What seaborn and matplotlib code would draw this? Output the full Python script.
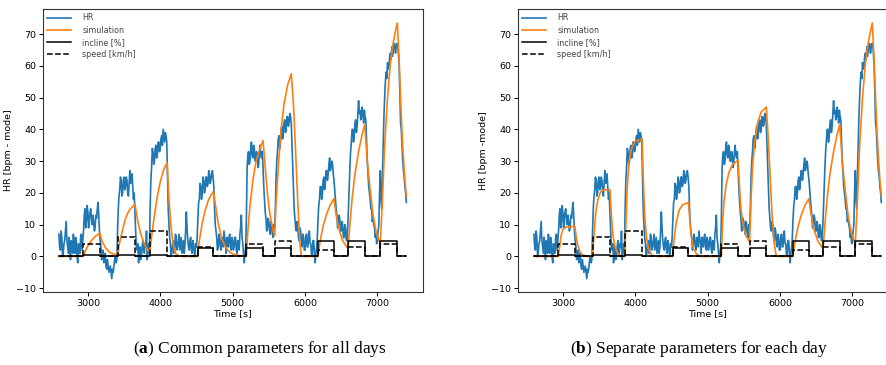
import numpy as np
import pandas as pd
import matplotlib
matplotlib.use("Agg")
import matplotlib.pyplot as plt
import seaborn as sns

plt.rcParams['mathtext.fontset'] = 'custom'
plt.rcParams['mathtext.rm'] = 'Liberation Serif'
plt.rcParams['mathtext.bf'] = 'Liberation Serif:bold'

# ---------------- data ----------------
hr_time = np.arange(2600, 7401, 10)
hr_values = [
    # 2600-2920
    7, 3, 2, 8, 6, 0, 1, 4, 5, 8, 11, 5, 3, 1, 6, 2, -1, 5, 4, 1, 7, 3, 1, 6, 5, 0, -2, 4, 3, 1, 6, 7, 2,
    # 2930-3160
    5, 8, 13, 15, 9, 11, 16, 14, 9, 12, 14, 15, 11, 10, 13, 11, 8, 9, 13, 12, 15, 17, 13, 8,
    # 3170-3400
    5, 3, -1, 0, 2, -2, -1, 1, -3, -4, -1, -3, -5, -4, -3, -5, -7, -4, -5, -3, -1, 0, -2, -1,
    # 3410-3640
    8, 15, 19, 21, 25, 24, 19, 20, 24, 25, 21, 22, 25, 24, 20, 19, 23, 27, 23, 24, 26, 22, 18, 20,
    # 3650-3860
    14, 8, 3, 2, 4, -2, 1, 3, -1, 0, 3, 5, 2, 1, 4, 3, 8, -1, 2, 4, 1, 15,
    # 3870-4080
    24, 28, 34, 33, 29, 30, 34, 35, 31, 32, 36, 36, 33, 34, 37, 38, 35, 40, 38, 36, 39, 38,
    # 4090-4500
    36, 25, 15, 10, 6, 4, 0, 1, 4, 5, 1, 2, 7, 6, 2, 3, 5, 7, 2, 4, 6, 1, 3, 5, 1, 3, 8, 14, 9, 5,
    3, 2, 5, 6, 2, 1, 5, 4, 1, 0, 4, 3,
    # 4510-4740
    6, 12, 17, 18, 23, 22, 18, 20, 25, 24, 20, 21, 25, 25, 22, 23, 27, 26, 23, 24, 26, 27, 25, 22,
    # 4750-5180
    15, 10, 8, 6, 2, 3, 7, 6, 3, 2, 6, 5, 3, 8, 6, 4, 1, 6, 5, 3, 6, 7, 3, 2, 6, 5, 2, 3, 6, 6,
    2, 1, 5, 4, 2, 7, 9, 13, 6, 4, 1, -2, 1, 3,
    # 5190-5420
    12, 28, 32, 33, 29, 30, 34, 36, 32, 31, 35, 34, 30, 30, 33, 32, 28, 29, 33, 35, 32, 31, 33, 28,
    # 5430-5580
    22, 18, 14, 12, 8, 9, 12, 11, 8, 7, 11, 10, 7, 6, 10, 9,
    # 5590-5800
    15, 25, 30, 33, 37, 38, 34, 36, 40, 41, 37, 39, 42, 43, 39, 40, 44, 44, 41, 42, 45, 44,
    # 5810-6160
    42, 35, 27, 20, 15, 12, 9, 8, 11, 10, 6, 5, 9, 8, 4, 3, 7, 6, 2, 2, 6, 7, 3, 3, 7, 8, 4, 4,
    0, 1, 5, 5, 1, -2, 1, 3,
    # 6170-6400
    6, 12, 16, 18, 22, 22, 18, 20, 24, 25, 21, 23, 27, 27, 24, 26, 29, 31, 27, 28, 30, 29, 26, 24,
    # 6410-6600
    21, 18, 15, 13, 9, 10, 13, 12, 8, 8, 11, 10, 6, 6, 10, 9, 5, 5, 9, 15,
    # 6610-6840
    22, 28, 33, 36, 40, 40, 36, 38, 42, 43, 39, 41, 45, 49, 45, 46, 43, 44, 47, 45, 42, 46, 44, 43,
    # 6850-7040
    36, 30, 26, 22, 20, 18, 15, 15, 11, 12, 10, 9, 6, 7, 4, 5, 8, 10, 20, 27,
    # 7050-7280
    18, 15, 26, 35, 44, 50, 55, 58, 56, 61, 59, 60, 63, 64, 62, 66, 63, 65, 67, 67, 64, 66, 67, 67,
    # 7290-7400
    64, 60, 52, 42, 40, 35, 30, 27, 25, 22, 20, 17,
]
assert len(hr_values) == len(hr_time)

# simulation, common parameters (a)
sim_a_time = [2600, 2935, 2960, 3000, 3050, 3100, 3165, 3200, 3250, 3300, 3350, 3410,
              3440, 3480, 3520, 3570, 3650, 3690, 3730, 3780, 3820, 3855,
              3890, 3920, 3960, 4000, 4050, 4095, 4120, 4150, 4180, 4210, 4250, 4300, 4350,
              4515, 4540, 4580, 4620, 4670, 4735, 4770, 4800, 4850, 4900, 4950, 5000, 5100,
              5190, 5210, 5240, 5280, 5320, 5370, 5420, 5450, 5480, 5510, 5550, 5580,
              5600, 5630, 5670, 5710, 5760, 5810, 5840, 5870, 5900, 5930, 5950,
              6175, 6210, 6250, 6300, 6350, 6400, 6430, 6470, 6520, 6570, 6595,
              6620, 6650, 6690, 6740, 6790, 6825, 6860, 6900, 6940, 6980, 7020, 7040,
              7070, 7100, 7140, 7180, 7220, 7255, 7275, 7300, 7320, 7340, 7360, 7380, 7400]
sim_a_values = [0, 0, 1.5, 3.3, 5.0, 6.3, 7.3, 4.5, 2.5, 1.3, 0.8, 0.5,
                4.5, 8.5, 12, 14.5, 16.5, 11, 7, 4, 2.2, 1.5,
                8, 13, 19, 23.5, 27.5, 29.5, 18, 9, 3.5, 1, 0.2, 0, 0,
                0, 5, 10.5, 14.5, 18, 20.5, 15, 10.5, 5.5, 3, 1.5, 0.8, 0.2,
                0, 8, 16, 24, 29.5, 33.5, 36.5, 28, 20, 14, 9, 6.5,
                17, 28, 40, 48, 54, 57.5, 48, 33, 17, 4, 0,
                0, 5, 9.5, 13.5, 16.3, 18.2, 13, 8.5, 5, 3.2, 2.5,
                10, 18, 26, 33, 38.5, 41.5, 30, 21, 13, 8, 5, 4,
                18, 35, 50, 61, 67.5, 71.5, 73.5, 62, 50, 39, 31, 24, 19]

# simulation, separate parameters (b)
sim_b_time = [2600, 2935, 2955, 2975, 3000, 3050, 3165, 3185, 3205, 3235, 3275, 3320,
              3410, 3430, 3455, 3485, 3520, 3570, 3650, 3670, 3690, 3720, 3760, 3810,
              3855, 3870, 3890, 3915, 3950, 4000, 4095, 4110, 4130, 4155, 4185, 4235, 4300,
              4515, 4535, 4565, 4605, 4655, 4735, 4755, 4775, 4805, 4845, 4900,
              5190, 5205, 5225, 5255, 5295, 5345, 5420, 5440, 5460, 5490, 5530, 5580,
              5600, 5620, 5650, 5690, 5740, 5810, 5830, 5860, 5890, 5920, 5945, 5960,
              6175, 6210, 6250, 6300, 6350, 6400, 6430, 6470, 6520, 6570, 6595,
              6620, 6650, 6690, 6740, 6790, 6825, 6860, 6900, 6940, 6980, 7020, 7040,
              7070, 7100, 7140, 7180, 7220, 7255, 7275, 7300, 7320, 7340, 7360, 7380, 7400]
sim_b_values = [0, 0, 3, 6.5, 8.5, 9.3, 9.5, 6, 3.5, 1.5, 0.4, 0,
                0, 7, 14, 18, 20.3, 21, 21, 13, 7, 3, 0.8, 0,
                0, 10, 22, 30, 34, 36.3, 37, 25, 13, 6, 2, 0.3, 0,
                0, 5, 10.5, 14.5, 16.3, 17, 11, 6, 2.5, 0.8, 0,
                0, 10, 17, 22.5, 26.5, 29, 30.3, 22, 15, 10, 6.5, 4.5,
                18, 28, 36, 42, 45.5, 47, 40, 27, 13, 4, 0.5, 0,
                0, 5, 9.5, 13.5, 16.3, 18.2, 13, 8.5, 5, 3.2, 2.5,
                10, 18, 26, 33, 38.5, 41.5, 30, 21, 13, 8, 5, 4,
                18, 35, 50, 61, 67.5, 71.5, 73.5, 62, 50, 39, 31, 24, 19]

# treadmill protocol (step functions)
step_time = [2600, 2935, 3165, 3410, 3650, 3855, 4095, 4515, 4735, 5190, 5420,
             5580, 5810, 6175, 6400, 6595, 6825, 7040, 7275, 7400]
incline_values = [0, 0.5, 0, 0.5, 0, 0.5, 0, 2.5, 0, 2.5, 0, 2.5, 0, 5, 0, 5, 0, 5, 0, 0]
speed_values = [0, 4, 0, 6, 0, 8, 0, 3, 0, 4, 0, 5, 0, 2, 0, 3, 0, 4, 0, 0]

ylabels = ["HR [bpm - mode]", "HR [bpm -mode]"]
captions = [r"($\mathbf{a}$) Common parameters for all days",
            r"($\mathbf{b}$) Separate parameters for each day"]

# ---------------- plot ----------------
W, H = 886, 365
fig = plt.figure(figsize=(W / 100, H / 100), dpi=100)
ax_a = fig.add_axes([43 / W, 73.3 / H, 380 / W, 282.4 / H])
ax_b = fig.add_axes([518 / W, 73.3 / H, 380 / W, 282.4 / H])

hr_df = pd.DataFrame({"t": hr_time, "v": hr_values})
step_df = pd.DataFrame({"t": step_time, "inc": incline_values, "spd": speed_values})

for ax, st, sv, yl in [(ax_a, sim_a_time, sim_a_values, ylabels[0]),
                       (ax_b, sim_b_time, sim_b_values, ylabels[1])]:
    sns.lineplot(data=hr_df, x="t", y="v", ax=ax, color="#1f77b4", lw=1.2,
                 label="HR", estimator=None, sort=False)
    sns.lineplot(x=st, y=sv, ax=ax, color="#ff7f0e", lw=1.2,
                 label="simulation", estimator=None, sort=False)
    sns.lineplot(data=step_df, x="t", y="inc", ax=ax, color="black", lw=1.1,
                 label="incline [%]", estimator=None, sort=False, drawstyle="steps-post")
    sns.lineplot(data=step_df, x="t", y="spd", ax=ax, color="black", lw=1.1,
                 linestyle="--", label="speed [km/h]", estimator=None, sort=False,
                 drawstyle="steps-post")
    ax.set_xlim(2380, 7630)
    ax.set_ylim(-11.1, 77.8)
    ax.set_xticks([3000, 4000, 5000, 6000, 7000])
    ax.set_yticks([-10, 0, 10, 20, 30, 40, 50, 60, 70])
    ax.tick_params(labelsize=6.8, length=3, width=0.7, pad=2)
    ax.set_xlabel("Time [s]", fontsize=6.8, labelpad=1)
    ax.set_ylabel(yl, fontsize=6.8, labelpad=2)
    for s in ax.spines.values():
        s.set_linewidth(0.8)
        s.set_color("#333333")
    leg = ax.legend(loc="upper left", frameon=False, fontsize=5.8, handlelength=3.0,
                    handletextpad=1.4, labelspacing=0.4, borderaxespad=0.25,
                    borderpad=0.25)
    for t in leg.get_texts():
        t.set_color("#444444")

fig.text(260 / W, 1 - 349 / H, captions[0], ha="center", va="center",
         fontsize=12.5, family="Liberation Serif")
fig.text(699 / W, 1 - 349 / H, captions[1], ha="center", va="center",
         fontsize=12.5, family="Liberation Serif")

fig.savefig("out.png", dpi=100)
